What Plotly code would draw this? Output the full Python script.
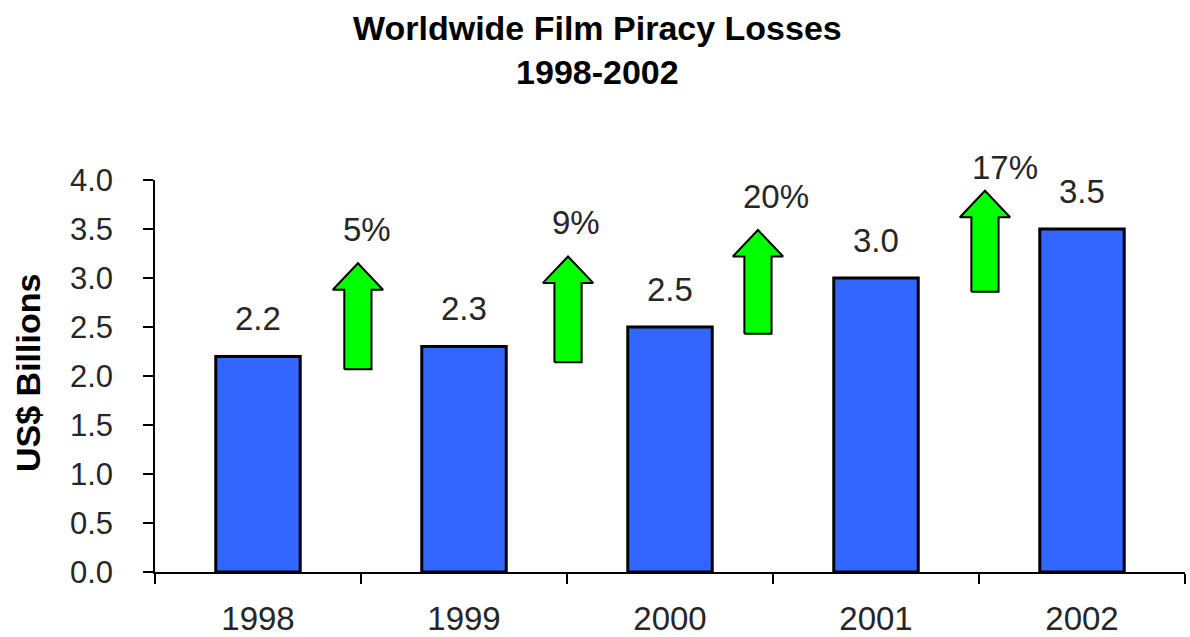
import plotly.graph_objects as go

# ---- data ----
years = ["1998", "1999", "2000", "2001", "2002"]
losses = [2.2, 2.3, 2.5, 3.0, 3.5]
growth_labels = ["5%", "9%", "20%", "17%"]
# arrows between years (position in category index units, values in US$ bn)
arrow_x = [0.485, 1.505, 2.427, 3.529]
arrow_base = [2.07, 2.14, 2.43, 2.86]
arrow_tip = [3.15, 3.22, 3.49, 3.89]
growth_label_x = [0.529, 1.544, 2.515, 3.626]
growth_label_y = [3.50, 3.57, 3.83, 4.13]
y_ticks = [0, 0.5, 1.0, 1.5, 2.0, 2.5, 3.0, 3.5, 4.0]
Y_MAX = 4.0

W, H = 1190, 637
ML, MR, MT, MB = 155, 5, 180, 65
PW = W - ML - MR
PH = H - MT - MB

def px_x(px):
    return (px - ML) / PW

def px_y(py):
    return (H - MB - py) / PH

FONT = "Liberation Sans, Arial, sans-serif"
TXT = "#262626"

fig = go.Figure()
fig.add_trace(go.Bar(
    x=years, y=losses, width=0.41,
    marker=dict(color="#3366FF", line=dict(color="black", width=3)),
    hoverinfo="skip", showlegend=False,
))

# arrows
SW, HW, HH = 0.066, 0.122, 0.27
for cx, yb, yt in zip(arrow_x, arrow_base, arrow_tip):
    yh = yt - HH
    xs = [cx - SW, cx + SW, cx + SW, cx + HW, cx, cx - HW, cx - SW, cx - SW]
    ys = [yb, yb, yh, yh, yt, yh, yh, yb]
    fig.add_trace(go.Scatter(
        x=xs, y=ys, xaxis="x2", yaxis="y", mode="lines", fill="toself",
        fillcolor="#00FF00", line=dict(color="black", width=2),
        hoverinfo="skip", showlegend=False,
    ))

annotations = []
for i, v in enumerate(losses):
    annotations.append(dict(
        x=i, y=v / Y_MAX, xref="x2", yref="paper", text=f"{v:.1f}", showarrow=False,
        yanchor="middle", yshift=38, font=dict(family=FONT, size=33, color=TXT),
    ))
for lx, ly, t in zip(growth_label_x, growth_label_y, growth_labels):
    annotations.append(dict(
        x=lx, y=ly / Y_MAX, xref="x2", yref="paper", text=t, showarrow=False,
        yanchor="middle", font=dict(family=FONT, size=33, color=TXT),
    ))
# title
annotations.append(dict(
    x=px_x(597), y=px_y(50), xref="paper", yref="paper",
    text="<b>Worldwide Film Piracy Losses<br>1998-2002</b>", showarrow=False,
    xanchor="center", yanchor="middle", align="center",
    font=dict(family=FONT, size=34, color="black"),
))
# y axis title
annotations.append(dict(
    x=px_x(28), y=px_y(373), xref="paper", yref="paper",
    text="<b>US$ Billions</b>", showarrow=False, textangle=-90,
    xanchor="center", yanchor="middle",
    font=dict(family=FONT, size=34, color="black"),
))

fig.update_layout(
    width=W, height=H,
    margin=dict(l=ML, r=MR, t=MT, b=MB, autoexpand=False),
    paper_bgcolor="white", plot_bgcolor="white",
    showlegend=False,
    annotations=annotations,
    xaxis=dict(
        type="category", range=[-0.5, 4.5], tickson="boundaries",
        ticks="outside", ticklen=10, tickwidth=1.5, tickcolor="black",
        showline=True, linecolor="black", linewidth=1.5,
        showgrid=False, zeroline=False, automargin=False,
        tickfont=dict(family=FONT, size=33, color=TXT),
        ticklabelstandoff=17,
    ),
    xaxis2=dict(
        overlaying="x", anchor="y", range=[-0.5, 4.5], visible=False,
        showgrid=False, zeroline=False,
    ),
    yaxis=dict(
        range=[0, Y_MAX], tickvals=y_ticks, ticktext=[f"{t:.1f}" for t in y_ticks],
        ticks="outside", ticklen=10, tickwidth=1.5, tickcolor="black",
        showline=True, linecolor="black", linewidth=1.5,
        showgrid=False, zeroline=False, automargin=False,
        tickfont=dict(family=FONT, size=31, color=TXT),
        ticklabelstandoff=24,
    ),
)

fig.write_html("out.html")
